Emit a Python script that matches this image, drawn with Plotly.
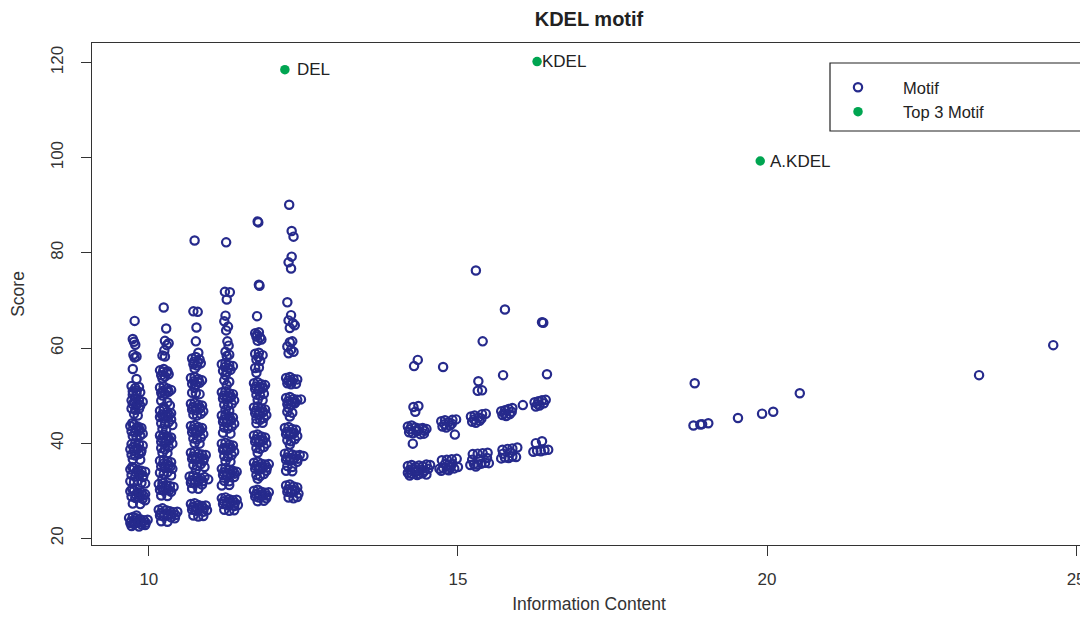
import plotly.graph_objects as go

# ---------------- data ----------------
# Column near IC ~9.8
col1_x = [9.77, 9.74, 9.76, 9.78, 9.75, 9.80, 9.77, 9.74, 9.80,
          9.72, 9.78, 9.84, 9.74, 9.80, 9.86,
          9.72, 9.78, 9.84, 9.90, 9.74, 9.80, 9.86, 9.72, 9.78, 9.84,
          9.76, 9.82,
          9.70, 9.76, 9.82, 9.88, 9.72, 9.78, 9.84, 9.90, 9.74, 9.80, 9.86,
          9.72, 9.78, 9.84, 9.90, 9.70, 9.76, 9.82, 9.88, 9.72, 9.78, 9.84, 9.74, 9.86,
          9.70, 9.76, 9.82, 9.88, 9.94, 9.72, 9.78, 9.84, 9.90, 9.70, 9.76, 9.82, 9.88, 9.94,
          9.70, 9.76, 9.82, 9.88, 9.94, 9.72, 9.78, 9.84, 9.90, 9.74, 9.86, 9.94,
          9.68, 9.74, 9.80, 9.86, 9.92, 9.98, 9.70, 9.76, 9.82, 9.88, 9.94, 9.72, 9.84,
          9.73, 9.79, 9.85, 9.75, 9.81, 9.87, 9.73, 9.79, 9.85, 9.91, 9.73, 9.79, 9.85, 9.91,
          9.71, 9.77, 9.83, 9.89, 9.95, 9.80, 9.74, 9.80, 9.76, 9.82]
col1_y = [65.7, 61.9, 61.3, 60.7, 58.6, 58.2, 58.0, 55.6, 53.5,
          52.0, 51.6, 51.8, 50.9, 51.0, 50.7,
          49.0, 49.2, 49.0, 48.7, 48.2, 48.0, 47.9, 47.3, 47.0, 47.2,
          46.2, 45.8,
          43.6, 43.9, 43.5, 43.2, 42.5, 42.3, 42.6, 42.0, 41.5, 41.3, 41.6,
          39.8, 40.0, 39.7, 39.5, 38.7, 38.5, 38.8, 38.4, 37.6, 37.4, 37.7, 36.6, 36.5,
          34.5, 34.7, 34.4, 34.2, 34.0, 33.3, 33.0, 33.2, 32.9, 32.0, 31.8, 32.1, 31.7, 31.5,
          29.9, 30.0, 29.7, 29.6, 29.3, 28.8, 28.5, 28.6, 28.3, 27.3, 27.2, 28.0,
          24.3, 24.5, 24.2, 24.0, 23.8, 23.9, 23.2, 23.0, 23.3, 22.9, 22.8, 22.6, 22.5,
          44.2, 43.1, 42.9, 39.2, 39.1, 38.0, 35.0, 33.9, 33.7, 33.1, 30.4, 29.2, 29.1, 29.0,
          23.6, 23.7, 23.6, 23.4, 23.3, 24.8, 50.2, 50.4, 48.6, 48.4]

# Column near IC ~10.3
col2_x = [10.24, 10.28, 10.26, 10.32, 10.29, 10.25, 10.22, 10.26,
          10.18, 10.24, 10.30, 10.20, 10.26, 10.32, 10.22,
          10.18, 10.24, 10.30, 10.36, 10.20, 10.26, 10.32, 10.22,
          10.20, 10.30, 10.24, 10.34,
          10.18, 10.24, 10.30, 10.36, 10.18, 10.24, 10.30, 10.36, 10.20, 10.26, 10.32, 10.38, 10.22, 10.28,
          10.18, 10.24, 10.30, 10.36, 10.20, 10.26, 10.32, 10.38, 10.20, 10.26, 10.32, 10.22, 10.30,
          10.18, 10.24, 10.30, 10.36, 10.20, 10.26, 10.32, 10.38, 10.18, 10.24, 10.30, 10.36, 10.22,
          10.16, 10.22, 10.28, 10.34, 10.40, 10.18, 10.24, 10.30, 10.36, 10.20, 10.30,
          10.16, 10.22, 10.28, 10.34, 10.40, 10.46, 10.18, 10.24, 10.30, 10.36, 10.42, 10.20, 10.30,
          10.21, 10.27, 10.33, 10.21, 10.27, 10.33, 10.23, 10.29, 10.35, 10.21, 10.27, 10.33,
          10.19, 10.25, 10.31, 10.37, 10.43, 10.23, 10.29, 10.23, 10.29]
col2_y = [68.5, 64.1, 61.5, 61.0, 60.6, 59.5, 58.4, 58.2,
          55.3, 55.6, 55.1, 54.3, 54.0, 54.5, 53.6,
          51.7, 51.9, 51.5, 51.2, 50.6, 50.4, 50.8, 50.0,
          48.9, 48.6, 47.6, 47.9,
          46.8, 47.0, 46.6, 46.3, 45.5, 45.2, 45.6, 45.0, 44.2, 44.0, 44.4, 43.8, 43.0, 42.8,
          41.6, 41.8, 41.4, 41.2, 40.3, 40.0, 40.5, 39.9, 39.0, 38.7, 39.2, 38.0, 37.9,
          36.3, 36.5, 36.2, 36.0, 35.1, 34.8, 35.3, 34.6, 33.8, 33.5, 33.9, 33.2, 32.5,
          31.4, 31.6, 31.2, 31.0, 30.8, 30.2, 30.0, 30.4, 29.8, 29.0, 28.9,
          26.0, 26.3, 25.9, 25.7, 25.5, 25.6, 24.8, 24.6, 24.9, 24.4, 24.2, 23.6, 23.5,
          46.0, 45.8, 45.9, 41.0, 40.9, 40.8, 35.7, 35.6, 35.1, 30.7, 30.6, 30.1,
          25.3, 25.2, 25.1, 25.0, 24.9, 51.0, 50.9, 55.0, 54.8]

# Column near IC ~10.8
col3_x = [10.74, 10.72, 10.79, 10.77, 10.76, 10.80,
          10.70, 10.76, 10.82, 10.72, 10.78, 10.84, 10.74,
          10.68, 10.74, 10.80, 10.86, 10.70, 10.76, 10.82, 10.74,
          10.70, 10.76, 10.82,
          10.68, 10.74, 10.80, 10.86, 10.70, 10.76, 10.82, 10.88, 10.72, 10.78, 10.84,
          10.68, 10.74, 10.80, 10.86, 10.70, 10.76, 10.82, 10.88, 10.72, 10.78, 10.84, 10.74, 10.82,
          10.68, 10.74, 10.80, 10.86, 10.92, 10.70, 10.76, 10.82, 10.88, 10.72, 10.78, 10.84, 10.90, 10.76,
          10.66, 10.72, 10.78, 10.84, 10.90, 10.96, 10.68, 10.74, 10.80, 10.86, 10.70, 10.80,
          10.68, 10.74, 10.80, 10.86, 10.92, 10.70, 10.76, 10.82, 10.88, 10.94, 10.72, 10.80, 10.88,
          10.71, 10.77, 10.83, 10.71, 10.77, 10.83, 10.71, 10.77, 10.83, 10.89, 10.69, 10.75, 10.81, 10.87,
          10.71, 10.77, 10.83, 10.89, 10.73, 10.79, 10.73, 10.79]
col3_y = [82.6, 67.7, 67.6, 64.3, 61.4, 59.0,
          57.8, 58.1, 57.6, 56.6, 56.3, 56.8, 55.7,
          53.7, 53.9, 53.5, 53.2, 52.5, 52.3, 52.7, 51.6,
          50.6, 50.5, 50.3,
          48.3, 48.5, 48.1, 47.9, 47.1, 46.9, 47.3, 46.7, 46.0, 45.8, 46.2,
          43.6, 43.8, 43.4, 43.2, 42.3, 42.1, 42.5, 41.9, 41.0, 40.8, 41.2, 40.0, 39.9,
          38.0, 38.2, 37.8, 37.6, 37.5, 36.7, 36.5, 36.9, 36.3, 35.4, 35.2, 35.6, 35.0, 34.4,
          33.0, 33.2, 32.8, 32.6, 32.9, 32.4, 31.7, 31.5, 31.9, 31.3, 30.5, 30.4,
          27.2, 27.4, 27.0, 26.8, 26.9, 26.0, 25.8, 26.2, 25.6, 25.9, 24.8, 24.6, 24.7,
          47.6, 47.5, 47.4, 42.9, 42.8, 42.7, 37.2, 37.1, 37.0, 36.8, 32.2, 32.1, 32.2, 32.0,
          26.6, 26.5, 26.4, 26.3, 57.1, 57.0, 53.0, 52.9]

# Column near IC ~11.3
col4_x = [11.25, 11.23, 11.31, 11.26, 11.24, 11.22, 11.28, 11.25, 11.27, 11.29, 11.24, 11.30, 11.26,
          11.18, 11.24, 11.30, 11.36, 11.20, 11.26, 11.32, 11.24,
          11.22, 11.30, 11.26,
          11.18, 11.24, 11.30, 11.36, 11.20, 11.26, 11.32, 11.38, 11.22, 11.28, 11.34, 11.24, 11.30,
          11.18, 11.24, 11.30, 11.36, 11.20, 11.26, 11.32, 11.38, 11.22, 11.28, 11.34, 11.20, 11.32,
          11.18, 11.24, 11.30, 11.36, 11.20, 11.26, 11.32, 11.38, 11.22, 11.28, 11.34, 11.24, 11.32,
          11.18, 11.24, 11.30, 11.36, 11.42, 11.20, 11.26, 11.32, 11.38, 11.22, 11.30, 11.18, 11.30,
          11.18, 11.24, 11.30, 11.36, 11.42, 11.20, 11.26, 11.32, 11.38, 11.44, 11.22, 11.30, 11.38,
          11.21, 11.27, 11.33, 11.21, 11.27, 11.33, 11.21, 11.27, 11.33, 11.21, 11.27, 11.33, 11.39,
          11.21, 11.27, 11.33, 11.39, 11.23, 11.29]
col4_y = [82.2, 71.8, 71.7, 70.2, 66.8, 65.6, 64.5, 63.7, 61.4, 60.5, 59.2, 58.6, 58.3,
          56.6, 56.9, 56.4, 56.2, 55.2, 55.0, 55.4, 54.3,
          53.2, 52.9, 52.2,
          50.7, 50.9, 50.5, 50.3, 49.4, 49.2, 49.6, 49.0, 48.1, 47.9, 48.3, 47.0, 46.8,
          45.8, 46.0, 45.6, 45.4, 44.5, 44.3, 44.7, 44.1, 43.3, 43.1, 43.5, 42.2, 42.0,
          39.9, 40.1, 39.7, 39.5, 38.6, 38.4, 38.8, 38.2, 37.3, 37.1, 37.5, 36.2, 36.1,
          34.6, 34.8, 34.4, 34.2, 34.0, 33.3, 33.1, 33.5, 32.9, 32.1, 32.0, 31.1, 31.2,
          28.4, 28.6, 28.2, 28.0, 28.1, 27.2, 27.0, 27.4, 26.8, 27.0, 26.0, 25.8, 25.9,
          50.0, 49.9, 49.8, 45.0, 44.9, 44.8, 39.0, 39.1, 39.0, 33.9, 33.8, 33.7, 33.6,
          27.8, 27.7, 27.6, 27.5, 56.0, 55.8]

# Column near IC ~11.8
col5_x = [11.76, 11.77, 11.78, 11.79, 11.75,
          11.72, 11.78, 11.74, 11.80, 11.76, 11.82,
          11.72, 11.78, 11.84, 11.74, 11.80,
          11.72, 11.78, 11.74,
          11.70, 11.76, 11.82, 11.88, 11.72, 11.78, 11.84, 11.74, 11.80, 11.86, 11.76, 11.84,
          11.70, 11.76, 11.82, 11.88, 11.72, 11.78, 11.84, 11.90, 11.74, 11.80, 11.86, 11.74, 11.84,
          11.70, 11.76, 11.82, 11.88, 11.72, 11.78, 11.84, 11.90, 11.74, 11.80, 11.86, 11.76,
          11.70, 11.76, 11.82, 11.88, 11.94, 11.72, 11.78, 11.84, 11.90, 11.74, 11.80, 11.86, 11.76,
          11.70, 11.76, 11.82, 11.88, 11.94, 11.72, 11.78, 11.84, 11.90, 11.76, 11.86,
          11.73, 11.79, 11.85, 11.73, 11.79, 11.85, 11.73, 11.79, 11.85, 11.73, 11.79, 11.85, 11.91,
          11.73, 11.79, 11.85, 11.91, 11.75, 11.77]
col5_y = [86.6, 86.4, 73.3, 73.1, 66.7,
          63.1, 63.3, 62.4, 62.2, 61.5, 61.8,
          58.8, 59.0, 58.5, 57.6, 57.3,
          55.8, 55.9, 54.8,
          52.6, 52.8, 52.4, 52.2, 51.4, 51.2, 51.6, 50.2, 50.0, 50.4, 49.1, 49.0,
          47.5, 47.7, 47.3, 47.1, 46.3, 46.1, 46.5, 45.9, 45.1, 44.9, 45.3, 44.2, 44.3,
          41.6, 41.8, 41.4, 41.2, 40.3, 40.1, 40.5, 39.9, 39.0, 38.8, 39.2, 38.0,
          35.9, 36.1, 35.7, 35.5, 35.6, 34.6, 34.4, 34.8, 34.2, 33.3, 33.1, 33.5, 32.5,
          30.0, 30.2, 29.8, 29.6, 29.7, 28.8, 28.6, 29.0, 28.4, 27.8, 27.9,
          51.9, 51.8, 51.7, 46.8, 46.7, 46.6, 40.8, 40.7, 40.6, 35.2, 35.1, 35.0, 34.9,
          29.3, 29.2, 29.1, 29.0, 62.8, 58.1]

# Column near IC ~12.3
col6_x = [12.27, 12.31, 12.34, 12.31, 12.26, 12.30, 12.24, 12.30, 12.26, 12.33, 12.36, 12.28,
          12.32, 12.28, 12.24, 12.30, 12.26, 12.34,
          12.22, 12.28, 12.34, 12.40, 12.24, 12.30, 12.38,
          12.22, 12.28, 12.34, 12.40, 12.46, 12.24, 12.30, 12.36, 12.26,
          12.24, 12.32, 12.28,
          12.20, 12.26, 12.32, 12.38, 12.22, 12.28, 12.34, 12.40, 12.24, 12.30, 12.36, 12.28,
          12.20, 12.26, 12.32, 12.38, 12.44, 12.50, 12.22, 12.28, 12.34, 12.40, 12.24, 12.32, 12.22, 12.32,
          12.22, 12.28, 12.34, 12.40, 12.24, 12.30, 12.36, 12.42, 12.26, 12.34, 12.40,
          12.25, 12.31, 12.25, 12.31, 12.37, 12.23, 12.29, 12.35, 12.23, 12.29, 12.35, 12.41,
          12.25, 12.31, 12.37]
col6_y = [90.1, 84.6, 83.4, 79.2, 78.0, 76.7, 69.6, 66.9, 65.8, 65.2, 64.8, 64.2,
          61.4, 61.2, 60.3, 59.6, 58.9, 59.2,
          53.7, 53.9, 53.5, 53.4, 52.6, 52.4, 52.5,
          49.5, 49.7, 49.3, 49.1, 49.2, 48.2, 48.0, 48.4, 47.4,
          46.6, 46.4, 45.6,
          43.2, 43.4, 43.0, 42.8, 41.9, 41.7, 42.1, 41.5, 40.6, 40.4, 40.8, 39.7,
          37.8, 38.0, 37.6, 37.4, 37.5, 37.3, 36.5, 36.3, 36.7, 36.1, 35.2, 35.0, 34.2, 34.1,
          31.1, 31.3, 30.9, 30.7, 29.8, 29.6, 30.0, 29.4, 28.6, 28.4, 28.7,
          53.1, 53.0, 48.8, 48.7, 48.6, 42.4, 42.3, 42.2, 37.0, 36.9, 36.8, 36.7,
          30.3, 30.2, 30.1]

# Middle group, IC ~14-16.5
mid_x = [15.29, 15.76, 16.36, 16.38, 15.40, 14.35, 14.29, 14.76, 15.73, 16.44, 15.33, 15.32, 15.39,
         14.28, 14.36, 14.31,
         14.19, 14.25, 14.31, 14.37, 14.43, 14.49, 14.21, 14.27, 14.33, 14.39, 14.45, 14.27,
         14.73, 14.79, 14.85, 14.91, 14.97, 14.75, 14.81, 14.87, 14.95,
         15.21, 15.27, 15.33, 15.39, 15.45, 15.23, 15.29, 15.35,
         15.70, 15.76, 15.82, 15.88, 15.72, 15.78, 15.84, 16.05,
         16.24, 16.30, 16.36, 16.42, 16.26, 16.32,
         14.19, 14.25, 14.31, 14.37, 14.43, 14.49, 14.55,
         14.19, 14.25, 14.31, 14.37, 14.43, 14.49, 14.22, 14.34,
         14.74, 14.82, 14.90, 14.98,
         14.70, 14.76, 14.82, 14.88, 14.94, 15.00, 14.73, 14.85,
         15.24, 15.32, 15.40, 15.48,
         15.20, 15.26, 15.32, 15.38, 15.44, 15.50, 15.29,
         15.72, 15.80, 15.88, 15.96,
         15.70, 15.76, 15.82, 15.88, 15.94,
         16.26, 16.36,
         16.22, 16.28, 16.34, 16.40, 16.46,
         14.22, 14.28, 14.34, 14.40, 14.46, 14.52, 14.79, 14.85, 14.91, 15.23, 15.35, 15.47,
         15.73, 15.85, 14.22, 14.34, 14.46, 14.78, 14.90, 15.26, 15.38, 15.75, 15.87, 16.29, 16.39]
mid_y = [76.3, 68.1, 65.4, 65.3, 61.4, 57.5, 56.2, 56.0, 54.3, 54.5, 53.0, 51.0, 51.1,
         47.6, 47.8, 46.6,
         43.5, 43.7, 43.3, 43.1, 43.2, 43.0, 42.3, 42.1, 42.5, 41.9, 42.0, 39.9,
         44.6, 44.8, 44.4, 44.9, 45.0, 43.5, 43.3, 43.7, 41.8,
         45.6, 45.8, 45.4, 46.1, 46.2, 44.5, 44.3, 44.7,
         46.7, 46.9, 47.2, 47.4, 45.9, 45.7, 46.1, 48.0,
         48.6, 48.8, 49.0, 49.1, 47.7, 47.9,
         35.2, 35.4, 35.0, 35.3, 35.1, 35.5, 35.4,
         33.8, 33.6, 33.9, 33.5, 33.7, 33.4, 33.2, 33.3,
         36.4, 36.5, 36.6, 36.7,
         34.6, 34.8, 34.5, 34.9, 34.7, 35.0, 34.2, 34.3,
         37.7, 37.8, 37.9, 38.0,
         35.4, 35.6, 35.5, 35.7, 35.9, 35.8, 35.1,
         38.6, 38.8, 38.9, 39.1,
         36.8, 37.0, 36.9, 37.2, 37.1,
         40.0, 40.4,
         38.2, 38.4, 38.3, 38.5, 38.6,
         34.4, 34.5, 34.3, 34.4, 34.2, 34.6, 35.6, 35.4, 35.7, 36.5, 36.6, 36.9,
         37.8, 38.0, 42.9, 42.8, 42.6, 44.0, 44.1, 45.0, 45.2, 46.3, 46.6, 48.2, 48.4]

# Right group, IC > 18
right_x = [18.83, 18.81, 18.92, 18.95, 19.05, 19.53, 19.92, 20.10, 20.53, 23.43, 24.63]
right_y = [52.6, 43.7, 43.9, 44.0, 44.2, 45.3, 46.2, 46.6, 50.5, 54.3, 60.6]

# Top 3 motifs
top_x = [12.20, 16.28, 19.89]
top_y = [118.5, 120.2, 99.3]
top_labels = ["DEL", "KDEL", "A.KDEL"]
top_label_shift = [14, 7, 12]

x_ticks = [10, 15, 20, 25]
y_ticks = [20, 40, 60, 80, 100, 120]

# ---------------- figure ----------------
motif_x = col1_x + col2_x + col3_x + col4_x + col5_x + col6_x + mid_x + right_x
motif_y = col1_y + col2_y + col3_y + col4_y + col5_y + col6_y + mid_y + right_y

NAVY = "#262a8c"
GREEN = "#00a551"
FONT = "Liberation Sans"

# page body has an 8px margin, so the figure is 8px smaller than the window
W, H = 1080, 609
L, T = 84, 35           # plot area left / top (figure px)
PW, PH = 994, 502       # plot area size


def px_x(p):  # figure-x pixel -> paper
    return (p - L) / PW


def px_y(p):  # figure-y pixel -> paper
    return (T + PH - p) / PH


fig = go.Figure()
fig.add_trace(go.Scatter(
    x=motif_x, y=motif_y, mode="markers", name="Motif",
    marker=dict(symbol="circle-open", size=8.3, color=NAVY, line=dict(width=2.2, color=NAVY)),
))
fig.add_trace(go.Scatter(
    x=top_x, y=top_y, mode="markers", name="Top 3 Motif",
    marker=dict(symbol="circle", size=9.5, color=GREEN),
))

for x, y, lab, sh in zip(top_x, top_y, top_labels, top_label_shift):
    fig.add_annotation(x=x, y=y, text=lab, showarrow=False, xanchor="left",
                       yanchor="middle", xshift=sh - 4, font=dict(size=17, color="#222"))

# legend box (R style)
fig.add_shape(type="rect", xref="paper", yref="paper",
              x0=px_x(822), x1=1.02, y0=px_y(123), y1=px_y(55),
              line=dict(color="#222", width=1.2), fillcolor="white", layer="below")

axis_common = dict(showgrid=False, zeroline=False, showline=True, mirror=True,
                   linecolor="#333", linewidth=1.2, ticks="outside", ticklen=10,
                   tickcolor="#333", tickfont=dict(size=17, color="#333"))

fig.update_layout(
    width=W, height=H,
    margin=dict(l=L, r=W - L - PW, t=T, b=H - T - PH, autoexpand=False),
    paper_bgcolor="white", plot_bgcolor="white",
    font=dict(family=FONT, color="#333"),
    title=dict(text="<b>KDEL motif</b>", x=0.5, xref="paper", xanchor="center",
               y=1 - 11 / H, yanchor="middle", font=dict(size=20, color="#222")),
    xaxis=dict(range=[9.08, 25.16], tickvals=x_ticks, ticklabelstandoff=8,
               title=dict(text="Information Content", font=dict(size=17.5, color="#333"), standoff=10),
               **axis_common),
    yaxis=dict(range=[18.6, 124.1], tickvals=y_ticks, tickangle=-90, ticklabelstandoff=11,
               title=dict(text="Score", font=dict(size=17.5, color="#333"), standoff=18),
               **axis_common),
    legend=dict(x=px_x(805), y=px_y(62), xanchor="left", yanchor="top",
                bgcolor="rgba(0,0,0,0)", borderwidth=0, itemwidth=80,
                font=dict(size=16.5, color="#222"), tracegroupgap=0),
    showlegend=True,
)

fig.write_html("out.html")
